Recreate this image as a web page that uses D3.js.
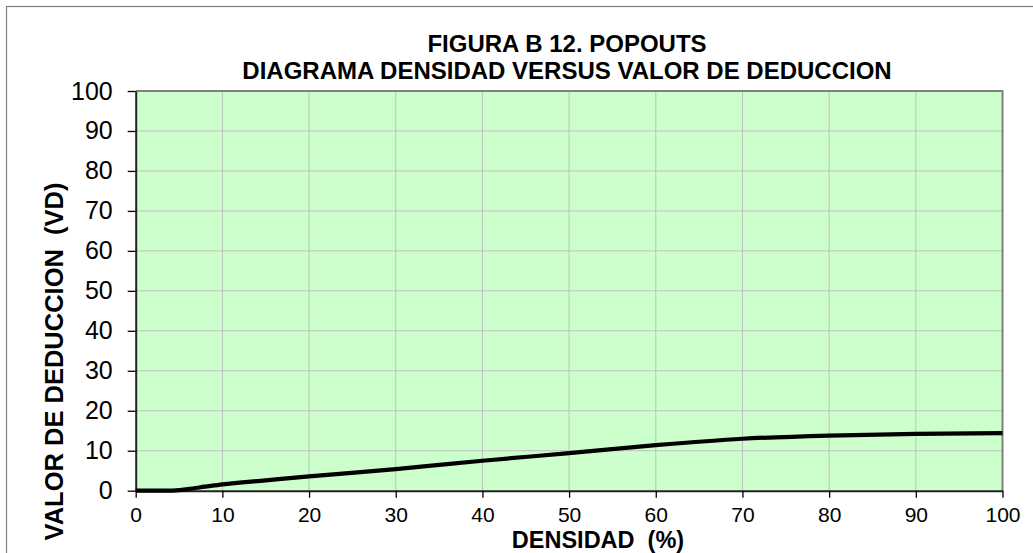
<!DOCTYPE html>
<html><head><meta charset="utf-8">
<script src="https://cdn.jsdelivr.net/npm/d3@7"></script>
<style>
html,body{margin:0;padding:0;background:#fff;}
svg{display:block;font-family:"Liberation Sans",Arial,sans-serif;}
</style></head>
<body><svg id="c" width="1033" height="553"></svg>
<script>
const titleLines = ["FIGURA B 12. POPOUTS", "DIAGRAMA DENSIDAD VERSUS VALOR DE DEDUCCION"];
const xLabel = "DENSIDAD  (%)";
const yLabel = "VALOR DE DEDUCCION  (VD)";
const densidad = [0, 2, 4, 6, 8, 10, 15, 20, 30, 40, 50, 60, 70, 80, 90, 100];
const valorDeduccion = [0, 0, 0, 0.4, 1.0, 1.6, 2.6, 3.6, 5.4, 7.5, 9.4, 11.4, 13.0, 13.8, 14.2, 14.4];
const xTicks = [0, 10, 20, 30, 40, 50, 60, 70, 80, 90, 100];
const yTicks = [0, 10, 20, 30, 40, 50, 60, 70, 80, 90, 100];

const svg = d3.select("#c");
const L = 135.7, R = 1002.5, T = 91, B = 490.7;
const x = d3.scaleLinear().domain([0, 100]).range([L, R]);
const y = d3.scaleLinear().domain([0, 100]).range([B, T]);

// outer border
svg.append("rect").attr("x", 6.5).attr("y", 6.5).attr("width", 1040).attr("height", 560)
  .attr("fill", "none").attr("stroke", "#7f7f7f").attr("stroke-width", 1.2);

// plot background
svg.append("rect").attr("x", L).attr("y", T).attr("width", R - L).attr("height", B - T)
  .attr("fill", "#ccffcc");

// gridlines
svg.append("g").selectAll("line").data(xTicks.slice(1, -1)).join("line")
  .attr("x1", d => x(d)).attr("x2", d => x(d)).attr("y1", T).attr("y2", B)
  .attr("stroke", "#c0c0c0").attr("stroke-width", 1);
svg.append("g").selectAll("line").data(yTicks.slice(1, -1)).join("line")
  .attr("y1", d => y(d)).attr("y2", d => y(d)).attr("x1", L).attr("x2", R)
  .attr("stroke", "#c0c0c0").attr("stroke-width", 1);

// plot frame (top/right gray)
svg.append("path").attr("d", `M${L},${T}H${R}V${B}`).attr("fill", "none")
  .attr("stroke", "#808080").attr("stroke-width", 2);

// axes
const xAxis = svg.append("g").attr("transform", `translate(0,${B})`)
  .call(d3.axisBottom(x).tickValues(xTicks).tickSize(7).tickSizeOuter(0).tickPadding(9));
const yAxis = svg.append("g").attr("transform", `translate(${L},0)`)
  .call(d3.axisLeft(y).tickValues(yTicks).tickSize(8).tickSizeOuter(0).tickPadding(15));
[xAxis, yAxis].forEach(g => {
  g.select(".domain").attr("stroke", "#222").attr("stroke-width", 2);
  g.selectAll(".tick line").attr("stroke", "#000").attr("stroke-width", 1.3);
  g.selectAll(".tick text").attr("fill", "#000").attr("font-family", "'Liberation Sans',Arial,sans-serif");
});
xAxis.selectAll(".tick text").attr("font-size", 21);
yAxis.selectAll(".tick text").attr("font-size", 25);

// curve
const line = d3.line().x((d, i) => x(densidad[i])).y(d => y(d)).curve(d3.curveMonotoneX);
svg.append("path").datum(valorDeduccion).attr("d", line)
  .attr("fill", "none").attr("stroke", "#000").attr("stroke-width", 4.2)
  .attr("stroke-linejoin", "round");

// titles
svg.append("g").selectAll("text").data(titleLines).join("text")
  .attr("x", 567).attr("y", (d, i) => 51.7 + i * 27.6)
  .attr("text-anchor", "middle").attr("font-weight", "bold").attr("font-size", 24)
  .text(d => d);

svg.append("text").attr("x", 598).attr("y", 548).attr("text-anchor", "middle")
  .attr("font-weight", "bold").attr("font-size", 23.5).text(xLabel).style("white-space", "pre");

svg.append("text").attr("transform", "translate(63,361.5) rotate(-90)")
  .attr("text-anchor", "middle").attr("font-weight", "bold").attr("font-size", 25.5)
  .style("white-space", "pre").text(yLabel);
</script></body></html>
